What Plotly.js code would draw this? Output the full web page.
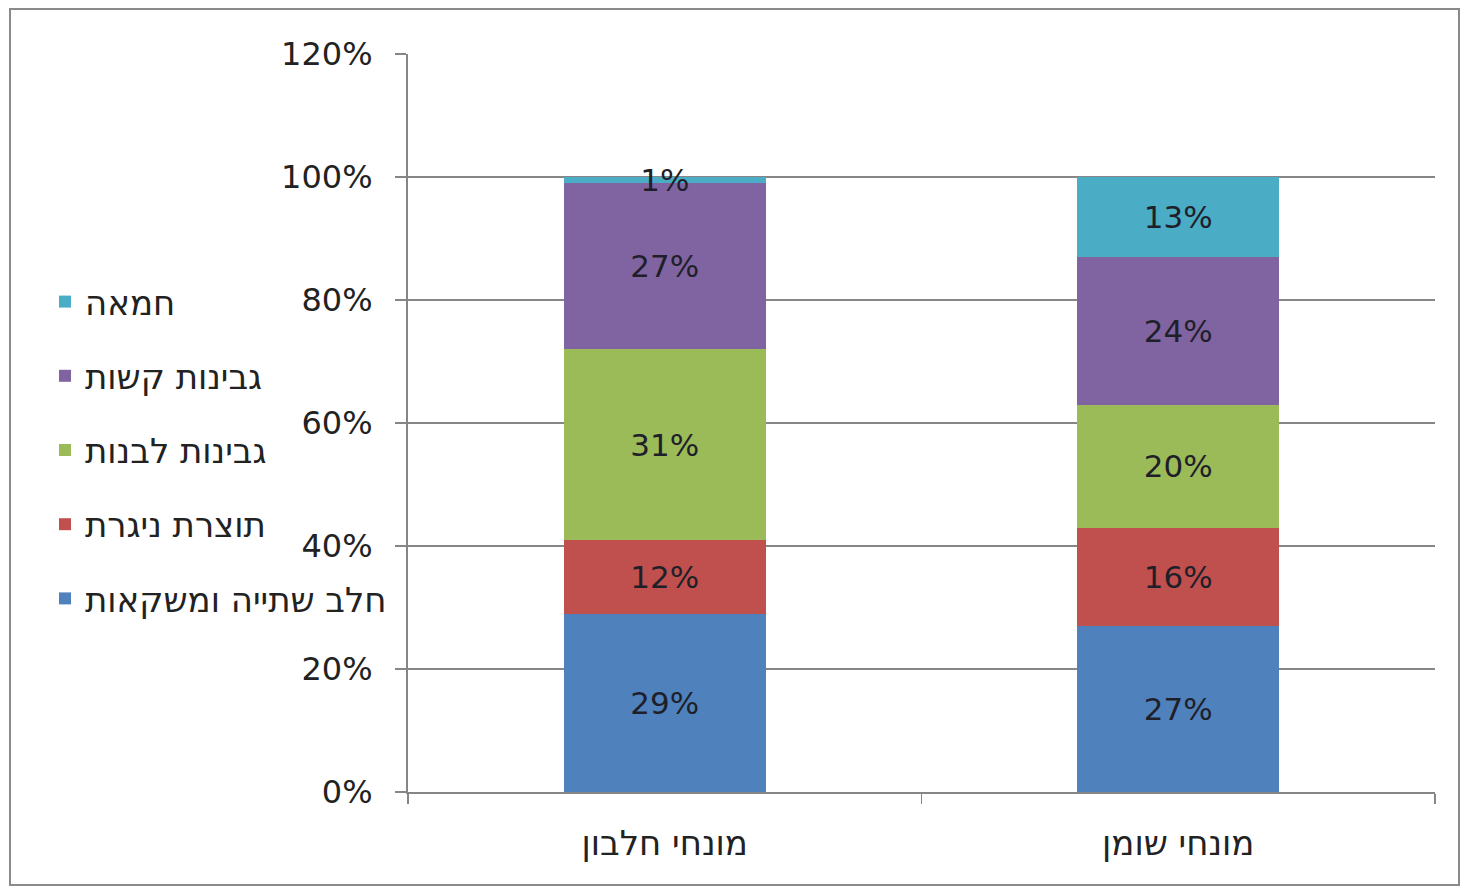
<!DOCTYPE html>
<html>
<head>
<meta charset="utf-8">
<script src="https://cdn.plot.ly/plotly-3.0.1.min.js"></script>
<style>
html,body{margin:0;padding:0;background:#fff;}
#chart{width:1461px;height:891px;}
</style>
</head>
<body>
<div id="chart"></div>
<script>
const categories = ['מונחי חלבון', 'מונחי שומן'];
const seriesNames = ['חלב שתייה ומשקאות', 'תוצרת ניגרת', 'גבינות לבנות', 'גבינות קשות', 'חמאה'];
const milkDrinks = [29, 27];
const liquidProducts = [12, 16];
const whiteCheese = [31, 20];
const hardCheese = [27, 24];
const butter = [1, 13];
const yTickValues = [0, 20, 40, 60, 80, 100, 120];

const seriesValues = [milkDrinks, liquidProducts, whiteCheese, hardCheese, butter];
const colors = ['#4F81BD', '#C0504D', '#9BBB59', '#8064A2', '#4BACC6'];

const FONT = 'DejaVu Sans, Liberation Sans, Arial, sans-serif';

const traces = seriesValues.map((vals, i) => ({
  type: 'bar',
  name: seriesNames[i],
  x: categories,
  y: vals,
  text: vals.map(v => v + '%'),
  textposition: 'inside',
  insidetextanchor: 'middle',
  constraintext: 'none',
  textfont: {family: FONT, size: 31, color: '#1f1f2a'},
  marker: {color: colors[i], line: {width: 0}},
  legendgroup: 'g' + i,
  legendrank: 10 - i,
  hoverinfo: 'skip'
}));

const L = 408, R = 26, T = 54, B = 99;
const W = 1461, H = 891;
const pw = W - L - R, ph = H - T - B;
const px = x => (x - L) / pw;
const py = y => (H - B - y) / ph;

const layout = {
  width: W, height: H,
  margin: {l: L, r: R, t: T, b: B, pad: 0},
  paper_bgcolor: '#ffffff',
  plot_bgcolor: '#ffffff',
  barmode: 'stack',
  bargap: 0.607,
  font: {family: FONT, color: '#222'},
  showlegend: true,
  legend: {
    x: px(45), xanchor: 'left',
    y: py(450), yanchor: 'middle',
    traceorder: 'grouped',
    tracegroupgap: 27,
    font: {family: FONT, size: 34, color: '#222'},
    bgcolor: 'rgba(0,0,0,0)',
    itemclick: false
  },
  xaxis: {
    type: 'category',
    showline: true, linecolor: '#868686', linewidth: 2,
    ticks: 'outside', tickson: 'boundaries', ticklen: 10, tickcolor: '#868686', tickwidth: 1.5,
    ticklabelstandoff: 20,
    tickfont: {family: FONT, size: 34, color: '#222'},
    showgrid: false, zeroline: false, fixedrange: true
  },
  yaxis: {
    range: [0, 120],
    tickvals: yTickValues,
    ticktext: yTickValues.map(v => v + '%'),
    showline: true, linecolor: '#868686', linewidth: 2,
    ticks: 'outside', ticklen: 11, tickcolor: '#868686', tickwidth: 1.5,
    ticklabelstandoff: 16,
    tickfont: {family: FONT, size: 32, color: '#222'},
    showgrid: true, gridcolor: '#868686', gridwidth: 1.5,
    zeroline: false, fixedrange: true
  },
  shapes: [{
    type: 'rect', xref: 'paper', yref: 'paper',
    x0: px(10), x1: px(1459), y0: py(885), y1: py(9),
    line: {color: '#8a8a8a', width: 2}, fillcolor: 'rgba(0,0,0,0)', layer: 'below'
  }]
};

Plotly.newPlot('chart', traces, layout, {displayModeBar: false, staticPlot: true});
</script>
</body>
</html>
